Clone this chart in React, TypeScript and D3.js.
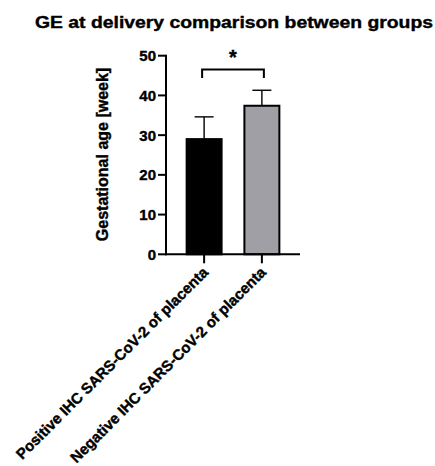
import React from "react";
import * as d3 from "d3";

const categories = [
  "Positive IHC SARS-CoV-2 of placenta",
  "Negative IHC SARS-CoV-2 of placenta",
];
const means = [29.0, 37.4];
const sds = [5.6, 3.9];
const yTicks = [0, 10, 20, 30, 40, 50];
const bracketTop = 46.5;
const bracketLeg = 44.4;
const sigLabel = "*";
const title = "GE at delivery comparison between groups";
const yLabel = "Gestational age [week]";

const W = 435;
const H = 466;
const FONT = "'Liberation Sans', Arial, Helvetica, sans-serif";
const barColors = ["#000000", "#a09fa6"];

export default function App() {
  const x = d3
    .scaleBand<string>()
    .domain(categories)
    .range([166, 300])
    .paddingInner(0.36)
    .paddingOuter(0.34);
  const y = d3.scaleLinear().domain([0, 50]).range([254.3, 55.7]);
  const cx = (c: string) => (x(c) as number) + x.bandwidth() / 2;
  const x0 = x.range()[0];
  const x1 = x.range()[1];
  const c0 = cx(categories[0]);
  const c1 = cx(categories[1]);
  const thick = { stroke: "#000", strokeWidth: 0.4 };

  return (
    <svg
      width={W}
      height={H}
      style={{ position: "absolute", left: 0, top: 0, background: "#fff" }}
      fontFamily={FONT}
      fontWeight="bold"
    >
      <rect x={0} y={0} width={W} height={H} fill="#fff" />
      <text
        x={35}
        y={28.3}
        fontSize={17}
        textLength={398}
        lengthAdjust="spacingAndGlyphs"
        fill="#000"
        {...thick}
      >
        {title}
      </text>

      {/* bars */}
      {categories.map((c, i) => (
        <rect
          key={c}
          x={(x(c) as number) + 1}
          y={y(means[i])}
          width={x.bandwidth() - 2}
          height={y(0) - y(means[i])}
          fill={barColors[i]}
          stroke="#000"
          strokeWidth={2}
        />
      ))}

      {/* error bars */}
      {categories.map((c, i) => (
        <g key={"e" + c} stroke="#000" strokeWidth={1.4} fill="none">
          <line x1={cx(c)} x2={cx(c)} y1={y(means[i])} y2={y(means[i] + sds[i])} />
          <line
            x1={cx(c) - 9.5}
            x2={cx(c) + 9.5}
            y1={y(means[i] + sds[i])}
            y2={y(means[i] + sds[i])}
          />
        </g>
      ))}

      {/* y axis */}
      <line x1={x0} x2={x0} y1={y(50) - 1} y2={y(0) + 1} stroke="#000" strokeWidth={2} />
      {yTicks.map((t) => (
        <g key={t}>
          <line x1={x0 - 8} x2={x0} y1={y(t)} y2={y(t)} stroke="#000" strokeWidth={2} />
          <text
            x={x0 - 10}
            y={y(t)}
            dy="0.36em"
            textAnchor="end"
            fontSize={15}
            fill="#000"
            {...thick}
          >
            {t}
          </text>
        </g>
      ))}

      {/* x axis */}
      <line x1={x0 - 1} x2={x1} y1={y(0)} y2={y(0)} stroke="#000" strokeWidth={2} />
      {categories.map((c) => (
        <g key={"t" + c}>
          <line x1={cx(c)} x2={cx(c)} y1={y(0)} y2={y(0) + 9} stroke="#000" strokeWidth={2} />
          <text
            transform={`translate(${cx(c) + 5},${y(0) + 19}) rotate(-45)`}
            textAnchor="end"
            fontSize={15}
            fill="#000"
            {...thick}
          >
            {c}
          </text>
        </g>
      ))}

      {/* y label */}
      <text
        transform={`translate(108,154.5) rotate(-90)`}
        textAnchor="middle"
        fontSize={16}
        fill="#000"
        {...thick}
      >
        {yLabel}
      </text>

      {/* significance bracket */}
      <path
        d={`M${c0 - 2},${y(bracketLeg)} V${y(bracketTop)} H${c1 + 2} V${y(bracketLeg)}`}
        fill="none"
        stroke="#000"
        strokeWidth={2}
      />
      <text
        x={(c0 + c1) / 2}
        y={y(bracketTop) - 6}
        textAnchor="middle"
        fontSize={20}
        fill="#000"
        {...thick}
      >
        {sigLabel}
      </text>
    </svg>
  );
}
